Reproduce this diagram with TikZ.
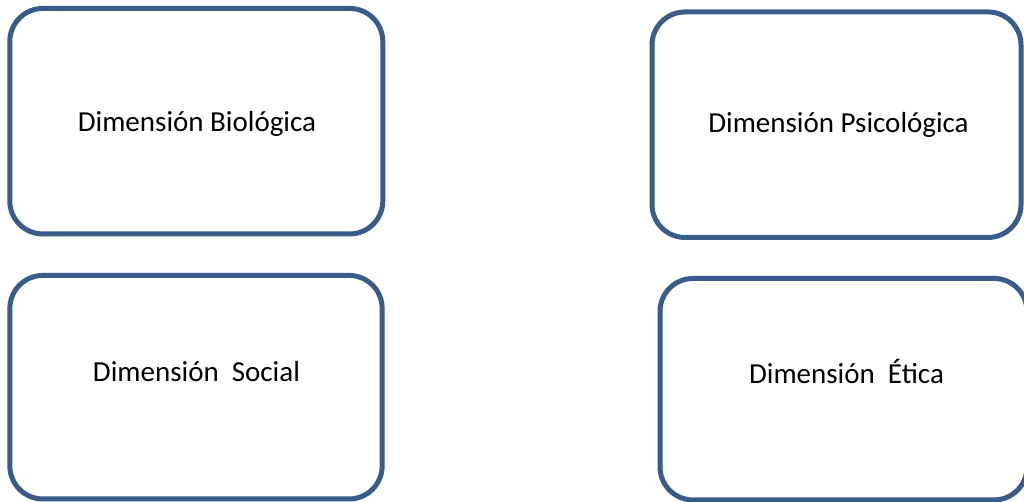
\documentclass[tikz,border=0pt]{standalone}
\usepackage{fontspec}
\setmainfont{Carlito}
\definecolor{boxblue}{HTML}{385D8A}
\begin{document}
\begin{tikzpicture}[x=1pt,y=-1pt,
  dimbox/.style={draw=boxblue, line width=5pt, rounded corners=33pt, inner sep=0pt},
  dimtext/.style={anchor=base, inner sep=0pt, font=\fontsize{29}{35}\selectfont, text=black}]
\clip (0,0) rectangle (1024,501);
\node[dimbox, minimum width=373pt, minimum height=225.5pt] (bio) at (196.3,121.2) {};
\node[dimbox, minimum width=369pt, minimum height=225.5pt] (psi) at (836.5,124.7) {};
\node[dimbox, minimum width=372.3pt, minimum height=223.5pt] (soc) at (196,387.2) {};
\node[dimbox, minimum width=367pt, minimum height=221.5pt] (eti) at (843.5,389.2) {};
\node[dimtext] (biot) at (197,131) {Dimensión Biológica};
\node[dimtext] (psit) at (838.5,132.5) {Dimensión Psicológica};
\node[dimtext] (soct) at (196.5,381) {Dimensión\ \ Social};
\node[dimtext] (etit) at (846.5,383) {Dimensión\ \ Ética};
\end{tikzpicture}
\end{document}
